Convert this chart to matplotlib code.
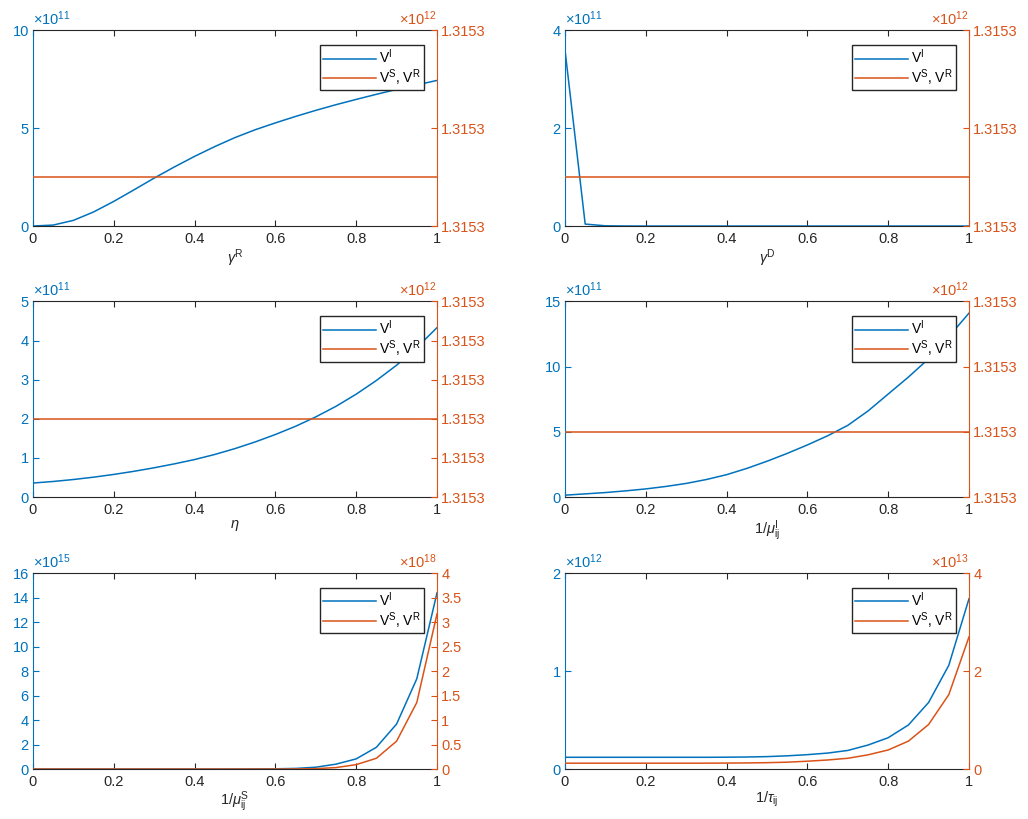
import matplotlib
matplotlib.use("Agg")
import matplotlib.pyplot as plt
import numpy as np
from matplotlib.ticker import FuncFormatter

plt.rcParams['font.family'] = ['Liberation Sans', 'DejaVu Sans']
plt.rcParams['font.size'] = 9
plt.rcParams['mathtext.fontset'] = 'custom'
plt.rcParams['mathtext.rm'] = 'Liberation Sans'
plt.rcParams['mathtext.it'] = 'Liberation Sans:italic'

BLUE = '#0072BD'
ORANGE = '#D95319'

x = np.round(np.arange(0, 1.0001, 0.05), 2)

# V^I values per panel
vi_gamma_r = np.array([0.0, 0.05, 0.29, 0.72, 1.26, 1.85, 2.45, 3.02, 3.56, 4.06, 4.52,
                       4.92, 5.27, 5.60, 5.91, 6.20, 6.47, 6.73, 6.98, 7.21, 7.44]) * 1e11
vi_gamma_d = np.array([3.6, 0.04, 0.005, 0.001, 0, 0, 0, 0, 0, 0, 0,
                       0, 0, 0, 0, 0, 0, 0, 0, 0, 0]) * 1e11
vi_eta = np.array([0.36, 0.40, 0.45, 0.51, 0.58, 0.66, 0.75, 0.85, 0.96, 1.09, 1.24,
                   1.41, 1.60, 1.81, 2.05, 2.32, 2.63, 2.98, 3.37, 3.82, 4.33]) * 1e11
vi_mu_i = np.array([0.15, 0.25, 0.35, 0.48, 0.63, 0.82, 1.05, 1.35, 1.72, 2.2, 2.75,
                    3.35, 4.0, 4.7, 5.5, 6.6, 7.9, 9.2, 10.6, 12.3, 14.1]) * 1e11
vi_mu_s = np.array([0, 0, 0, 0, 0, 0, 0, 0, 0, 0, 0.002,
                    0.01, 0.02, 0.05, 0.15, 0.4, 0.83, 1.78, 3.68, 7.38, 14.4]) * 1e15
vi_tau = np.array([0.12, 0.12, 0.12, 0.12, 0.12, 0.12, 0.12, 0.12, 0.121, 0.123, 0.127,
                   0.135, 0.147, 0.163, 0.19, 0.245, 0.32, 0.45, 0.68, 1.06, 1.74]) * 1e12

# V^S, V^R values per panel
vs_const = 1.3153e12
vs_mu_s = np.array([0, 0, 0, 0, 0, 0, 0, 0, 0, 0, 0,
                    0, 0, 0.002, 0.008, 0.03, 0.09, 0.22, 0.57, 1.36, 3.17]) * 1e18
vs_tau = np.array([0.12, 0.12, 0.12, 0.12, 0.12, 0.12, 0.12, 0.12, 0.122, 0.125, 0.13,
                   0.14, 0.16, 0.185, 0.22, 0.29, 0.39, 0.57, 0.91, 1.52, 2.7]) * 1e13

xlabels = [r'$\gamma^{\mathrm{R}}$', r'$\gamma^{\mathrm{D}}$', r'$\eta$',
           r'1/$\mu^{\mathrm{I}}_{\mathrm{ij}}$', r'1/$\mu^{\mathrm{S}}_{\mathrm{ij}}$',
           r'1/$\tau_{\mathrm{ij}}$']

# (vi, vs, left ylim top, left tick step, left scale exp, right spec)
panels = [
    (vi_gamma_r, np.full(21, vs_const), 10, 5, 11, ('const', 0.25, 3, 12)),
    (vi_gamma_d, np.full(21, vs_const), 4, 2, 11, ('const', 0.25, 3, 12)),
    (vi_eta, np.full(21, vs_const), 5, 1, 11, ('const', 0.4, 6, 12)),
    (vi_mu_i, np.full(21, vs_const), 15, 5, 11, ('const', 1 / 3, 4, 12)),
    (vi_mu_s, vs_mu_s, 16, 2, 15, ('range', 4, 0.5, 18)),
    (vi_tau, vs_tau, 2, 1, 12, ('range', 4, 2, 13)),
]

fig = plt.figure(figsize=(10.28, 8.19), dpi=100)
lefts = [0.0321, 0.5496]
bottoms = [0.724, 0.393, 0.061]

for i, (vi, vs, ytop, ystep, lexp, rspec) in enumerate(panels):
    ax = fig.add_axes([lefts[i % 2], bottoms[i // 2], 0.393, 0.239])
    ax2 = ax.twinx()

    l1, = ax.plot(x, vi, color=BLUE, lw=1.1)
    l2, = ax2.plot(x, vs, color=ORANGE, lw=1.1)

    ax.set_xlim(0, 1)
    ax.set_xticks(np.arange(0, 1.01, 0.2))
    ax.xaxis.set_major_formatter(FuncFormatter(lambda v, p: '%g' % round(v, 2)))
    ax.set_ylim(0, ytop * 10.0 ** lexp)
    ax.set_yticks(np.arange(0, ytop + 0.001, ystep) * 10.0 ** lexp)
    ax.yaxis.set_major_formatter(FuncFormatter(lambda v, p, e=lexp: '%g' % round(v / 10.0 ** e, 4)))

    if rspec[0] == 'const':
        _, frac, nt, rexp = rspec
        d = 1e3
        lo = vs_const - frac * d
        ax2.set_ylim(lo, lo + d)
        ax2.set_yticks(np.linspace(lo, lo + d, nt))
        ax2.yaxis.set_major_formatter(FuncFormatter(lambda v, p, e=rexp: '%.4f' % (v / 10.0 ** e)))
    else:
        _, rtop, rstep, rexp = rspec
        ax2.set_ylim(0, rtop * 10.0 ** rexp)
        ax2.set_yticks(np.arange(0, rtop + 0.001, rstep) * 10.0 ** rexp)
        ax2.yaxis.set_major_formatter(FuncFormatter(lambda v, p, e=rexp: '%g' % round(v / 10.0 ** e, 4)))

    for sp in ['top', 'bottom']:
        ax.spines[sp].set_color('#262626')
        ax2.spines[sp].set_visible(False)
    ax.spines['left'].set_color(BLUE)
    ax.spines['right'].set_visible(False)
    ax2.spines['left'].set_visible(False)
    ax2.spines['right'].set_color(ORANGE)

    ax.tick_params(axis='x', direction='in', top=True, length=4, colors='#262626',
                   labelsize=10.5, pad=4)
    ax.tick_params(axis='y', direction='in', length=4, colors=BLUE, labelsize=10.5, pad=3)
    ax2.tick_params(axis='y', direction='in', length=4, colors=ORANGE, labelsize=10.5, pad=3)

    ax.set_xlabel(xlabels[i], fontsize=10.5, color='#262626', labelpad=1)

    ax.text(0.0, 1.01, r'$\times$10$^{%d}$' % lexp, transform=ax.transAxes,
            color=BLUE, fontsize=10.5, ha='left', va='bottom')
    ax2.text(1.0, 1.01, r'$\times$10$^{%d}$' % rspec[3], transform=ax2.transAxes,
             color=ORANGE, fontsize=10.5, ha='right', va='bottom')

    leg = ax2.legend([l1, l2], [r'V$^{\mathrm{I}}$', r'V$^{\mathrm{S}}$, V$^{\mathrm{R}}$'],
                     loc='upper right', bbox_to_anchor=(0.968, 0.925), fontsize=10,
                     fancybox=False, framealpha=1, edgecolor='#262626', borderpad=0.2,
                     handlelength=3.8, labelspacing=0.05, handletextpad=0.25,
                     borderaxespad=0)
    leg.get_frame().set_linewidth(1.0)

fig.savefig('out.png', dpi=100)
